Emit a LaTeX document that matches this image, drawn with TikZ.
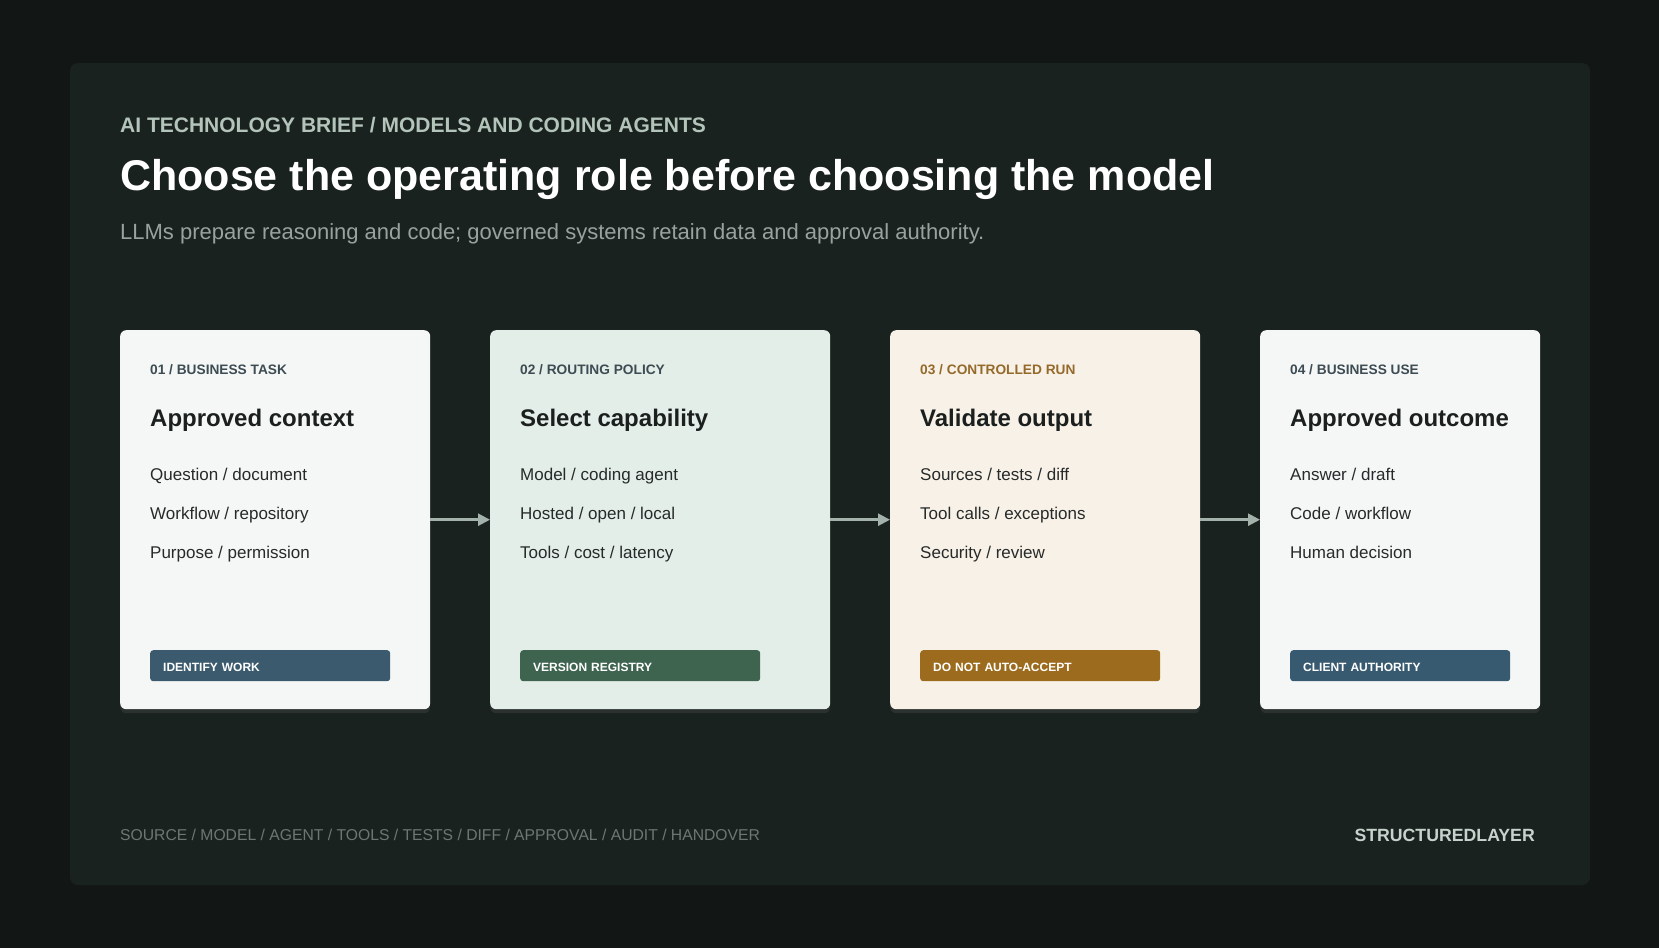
\documentclass[tikz,border=0pt]{standalone}
\usepackage{fontspec}
\setmainfont{Liberation Sans}
\usepackage{xcolor}
\usetikzlibrary{arrows.meta,shadows}

\definecolor{bgc}{HTML}{121715}
\definecolor{panelc}{HTML}{1A2220}
\definecolor{kickerc}{HTML}{B3C4BA}
\definecolor{subc}{HTML}{98A39E}
\definecolor{tagc}{HTML}{3D4B52}
\definecolor{tagrun}{HTML}{946A2A}
\definecolor{headc}{HTML}{1B1F1E}
\definecolor{itemc}{HTML}{262A29}
\definecolor{taskfill}{HTML}{F4F7F6}
\definecolor{routefill}{HTML}{E3EEE8}
\definecolor{runfill}{HTML}{F8F1E8}
\definecolor{usefill}{HTML}{F5F7F7}
\definecolor{taskbadge}{HTML}{3B5A6D}
\definecolor{routebadge}{HTML}{3E6450}
\definecolor{runbadge}{HTML}{9C6B1E}
\definecolor{usebadge}{HTML}{375A70}
\definecolor{flowc}{HTML}{A3B2AB}
\definecolor{footc}{HTML}{6C7773}
\definecolor{brandc}{HTML}{C6D2CB}

\begin{document}
\begin{tikzpicture}[x=1pt,y=-1pt,
    card/.style={anchor=north west, inner sep=0pt, minimum height=379pt, rounded corners=6pt,
      drop shadow={opacity=0.16, shadow xshift=0pt, shadow yshift=-4pt}},
    tag/.style={anchor=base west, inner sep=0pt, font=\fontsize{13.7}{16}\selectfont\bfseries, text=tagc},
    head/.style={anchor=base west, inner sep=0pt, font=\fontsize{24}{28}\selectfont\bfseries, text=headc},
    item/.style={anchor=base west, inner sep=0pt, font=\fontsize{17}{20}\selectfont, text=itemc},
    badge/.style={anchor=north west, inner xsep=13pt, inner ysep=0pt, minimum height=31pt,
      text height=12pt, text depth=0pt, text width=214pt, align=left, rounded corners=3pt,
      text=white, font=\fontsize{12}{14}\selectfont\bfseries},
    flow/.style={draw=flowc, line width=2.5pt, -{Triangle[length=12pt,width=12pt]}}
  ]
  \useasboundingbox (0,0) rectangle (1659,948);
  \fill[bgc] (0,0) rectangle (1659,948);
  \fill[panelc, rounded corners=8pt] (70,63) rectangle (1590,885);

  % heading
  \node[anchor=base west, inner sep=0pt, font=\fontsize{21}{24}\selectfont\bfseries, text=kickerc] (kicker) at (120,132) {AI TECHNOLOGY BRIEF / MODELS AND CODING AGENTS};
  \node[anchor=base west, inner sep=0pt, font=\fontsize{43}{48}\selectfont\bfseries, text=white] (title) at (120,190) {Choose the operating role before choosing the model};
  \node[anchor=base west, inner sep=0pt, font=\fontsize{22}{26}\selectfont, text=subc] (sub) at (120,239) {LLMs prepare reasoning and code; governed systems retain data and approval authority.};

  % cards
  \node[card, fill=taskfill, minimum width=310pt] (A) at (120,330) {};
  \node[card, fill=routefill, minimum width=340pt] (B) at (490,330) {};
  \node[card, fill=runfill, minimum width=310pt] (C) at (890,330) {};
  \node[card, fill=usefill, minimum width=280pt] (D) at (1260,330) {};

  \node[tag] (Atag) at (150,374) {01 / BUSINESS TASK};
  \node[head] (Ahead) at (150,426) {Approved context};
  \node[item] (Ai) at (150,480) {Question / document};
  \node[item] (Aii) at (150,519) {Workflow / repository};
  \node[item] (Aiii) at (150,558) {Purpose / permission};
  \node[badge, fill=taskbadge] (Abadge) at (150,650) {IDENTIFY WORK};

  \node[tag] (Btag) at (520,374) {02 / ROUTING POLICY};
  \node[head] (Bhead) at (520,426) {Select capability};
  \node[item] (Bi) at (520,480) {Model / coding agent};
  \node[item] (Bii) at (520,519) {Hosted / open / local};
  \node[item] (Biii) at (520,558) {Tools / cost / latency};
  \node[badge, fill=routebadge] (Bbadge) at (520,650) {VERSION REGISTRY};

  \node[tag, text=tagrun] (Ctag) at (920,374) {03 / CONTROLLED RUN};
  \node[head] (Chead) at (920,426) {Validate output};
  \node[item] (Ci) at (920,480) {Sources / tests / diff};
  \node[item] (Cii) at (920,519) {Tool calls / exceptions};
  \node[item] (Ciii) at (920,558) {Security / review};
  \node[badge, fill=runbadge] (Cbadge) at (920,650) {DO NOT AUTO-ACCEPT};

  \node[tag] (Dtag) at (1290,374) {04 / BUSINESS USE};
  \node[head] (Dhead) at (1290,426) {Approved outcome};
  \node[item] (Di) at (1290,480) {Answer / draft};
  \node[item] (Dii) at (1290,519) {Code / workflow};
  \node[item] (Diii) at (1290,558) {Human decision};
  \node[badge, fill=usebadge, text width=194pt] (Dbadge) at (1290,650) {CLIENT AUTHORITY};

  \draw[flow] (A.east) -- (B.west);
  \draw[flow] (B.east) -- (C.west);
  \draw[flow] (C.east) -- (D.west);

  % footer
  \node[anchor=base west, inner sep=0pt, font=\fontsize{15.7}{18}\selectfont, text=footc] (steps) at (120,840) {SOURCE / MODEL / AGENT / TOOLS / TESTS / DIFF / APPROVAL / AUDIT / HANDOVER};
  \node[anchor=base east, inner sep=0pt, font=\fontsize{17.7}{20}\selectfont\bfseries, text=brandc] (brand) at (1535,841) {STRUCTUREDLAYER};
\end{tikzpicture}
\end{document}
